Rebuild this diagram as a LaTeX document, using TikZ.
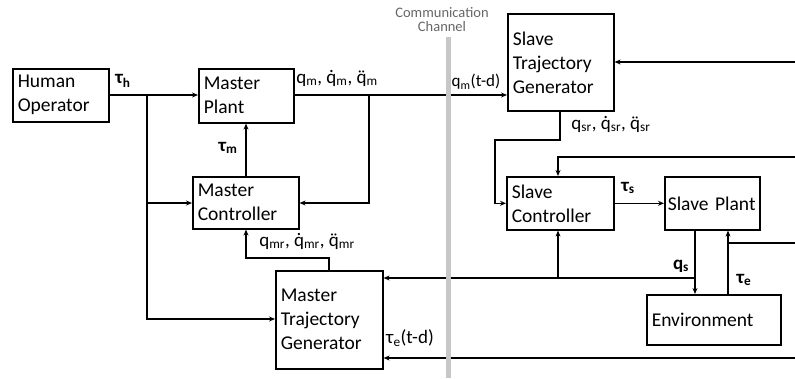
\documentclass[tikz,border=0pt]{standalone}
\usepackage{fontspec}
\setmainfont{Carlito}
\usetikzlibrary{arrows.meta}
\newcommand\dotq{\ooalign{q\cr\hidewidth\char"02D9\hidewidth\cr}}
\newcommand\ddotq{\ooalign{q\cr\hidewidth\char"00A8\hidewidth\cr}}
\begin{document}
\begin{tikzpicture}[x=1pt,y=-1pt,
  blk/.style={draw,line width=1.6pt,anchor=north west,align=left,inner xsep=5pt,inner ysep=4pt,
    font=\fontsize{19.5}{24}\selectfont},
  con/.style={line width=1.3pt,-{Stealth[length=6pt,width=5pt]}},
  ln/.style={line width=1.3pt},
  lbl/.style={inner sep=0pt,font=\fontsize{19}{20}\selectfont},
  blbl/.style={inner sep=0pt,font=\fontsize{19}{20}\selectfont\bfseries}]
\useasboundingbox (0,0) rectangle (795,378);
% blocks
\node[blk,text width=86,minimum width=96,minimum height=53] (ho) at (12,68) {Human\\Operator};
\node[blk,text width=85,minimum width=95,minimum height=54] (mp) at (198,68) {Master\\Plant};
\node[blk,text width=96,minimum width=106,minimum height=52] (mc) at (192,176) {Master\\Controller};
\node[blk,text width=97,minimum width=107,minimum height=98] (mtg) at (275,270) {Master\\Trajectory\\Generator};
\node[blk,text width=96,minimum width=106,minimum height=97] (stg) at (507,13) {Slave\\Trajectory\\Generator};
\node[blk,text width=97,minimum width=107,minimum height=53] (sc) at (506,176) {Slave\\Controller};
\node[blk,minimum width=95,minimum height=53,inner xsep=3pt,text width=89] (sp) at (664,176) {Slave Plant};
\node[blk,text width=124,minimum width=134,minimum height=50] (env) at (646,294) {Environment};
% coordinates
\coordinate (j1) at (147,95);
\coordinate (j1a) at (147,203);
\coordinate (j1b) at (147,319);
\coordinate (j2) at (369,95);
\coordinate (j2a) at (369,203);
\coordinate (r1) at (795,62);
\coordinate (r2) at (795,157);
\coordinate (r3) at (795,243);
\coordinate (r4) at (795,358);
\coordinate (s1) at (560,140);
\coordinate (s2) at (495,140);
\coordinate (s3) at (558,157);
\coordinate (e1) at (695,278);
\coordinate (e2) at (558,278);
\coordinate (t1) at (728,243);
\coordinate (m1) at (329,258);
\coordinate (m2) at (246,258);
% connectors
\draw[con] (ho.east |- j1) -- (mp.west |- j1);
\draw[con] (j1) -- (j1b) -- (mtg.west |- j1b);
\draw[con] (j1a) -- (mc.west |- j1a);
\draw[con] (mc.north -| 246,0) -- (mp.south -| 246,0);
\draw[con] (mp.east |- j1) -- (stg.west |- j1);
\draw[con] (j2) -- (j2a) -- (mc.east |- j2a);
\draw[con] (stg.south -| s1) -- (s1) -- (s2) -- (s2 |- sc.west) -- (sc.west);
\draw[con] (r1) -- (stg.east |- r1);
\draw[con] (r2) -- (s3) -- (sc.north -| s3);
\draw[con] (sc.east) -- (sp.west);
\draw[con] (sp.south -| e1) -- (env.north -| e1);
\draw[con] (e1) -- (mtg.east |- e1);
\draw[con] (e2) -- (sc.south -| e2);
\draw[con] (env.north -| t1) -- (sp.south -| t1);
\draw[ln] (t1) -- (r3);
\draw[con] (r4) -- (mtg.east |- r4);
\draw[con] (mtg.north -| m1) -- (m1) -- (m2) -- (mc.south -| m2);
% communication channel
\draw[line width=5pt,color=black!22] (448,37) -- (448,378);
\node[inner sep=0pt,align=center,text=black!60,font=\fontsize{14.5}{14}\selectfont] (cc) at (442,20) {Communication\\Channel};
% labels
\node[blbl] (lth) at (123,81) {τ\textsubscript{h}};
\node[blbl] (ltm) at (228,148) {τ\textsubscript{m}};
\node[lbl] (lqm) at (337,80) {q\textsubscript{m}, \dotq\textsubscript{m}, \ddotq\textsubscript{m}};
\node[lbl,font=\fontsize{17}{18}\selectfont] (lqd) at (476,82) {q\textsubscript{m}(t-d)};
\node[lbl] (lqsr) at (611,126) {q\textsubscript{sr}, \dotq\textsubscript{sr}, \ddotq\textsubscript{sr}};
\node[lbl] (lqmr) at (307,243) {q\textsubscript{mr}, \dotq\textsubscript{mr}, \ddotq\textsubscript{mr}};
\node[blbl] (lts) at (628,188) {τ\textsubscript{s}};
\node[blbl] (lqs) at (681,266) {q\textsubscript{s}};
\node[blbl] (lte) at (744,280) {τ\textsubscript{e}};
\node[lbl] (lted) at (410,338) {τ\textsubscript{e}(t-d)};
\end{tikzpicture}
\end{document}
